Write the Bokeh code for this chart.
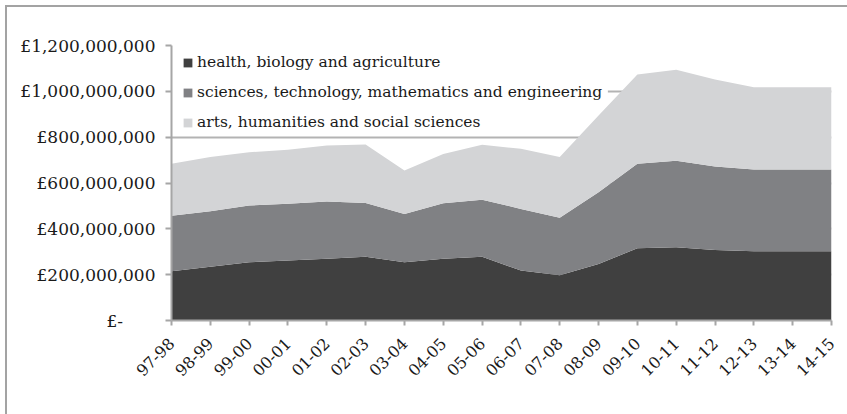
import math

from bokeh.embed import file_html
from bokeh.models import (BoxAnnotation, CustomJSTickFormatter, FixedTicker,
                          Legend, LegendItem, Range1d)
from bokeh.plotting import figure
from bokeh.resources import INLINE

# Academic years and funding by subject group (GBP)
years = ["97-98", "98-99", "99-00", "00-01", "01-02", "02-03", "03-04",
         "04-05", "05-06", "06-07", "07-08", "08-09", "09-10", "10-11",
         "11-12", "12-13", "13-14", "14-15"]

health = [215e6, 235e6, 254e6, 262e6, 269e6, 278e6, 254e6, 269e6, 278e6,
          218e6, 198e6, 247e6, 315e6, 320e6, 308e6, 302e6, 302e6, 302e6]

stem = [242e6, 242e6, 248e6, 247e6, 250e6, 235e6, 211e6, 243e6, 249e6,
        269e6, 250e6, 313e6, 369e6, 377e6, 364e6, 357e6, 357e6, 357e6]

arts = [227e6, 236e6, 232e6, 236e6, 245e6, 255e6, 190e6, 215e6, 240e6,
        262e6, 265e6, 335e6, 389e6, 397e6, 380e6, 359e6, 359e6, 359e6]

series_names = ["health, biology and agriculture",
                "sciences, technology, mathematics and engineering",
                "arts, humanities and social sciences"]
colors = ["#404040", "#808184", "#d3d4d6"]

y_ticks = [0, 200e6, 400e6, 600e6, 800e6, 1000e6, 1200e6]

FONT = "DejaVu Serif"
TEXT_COLOR = "#1a1a1a"

xs = list(range(len(years)))
data = dict(x=xs, health=health, stem=stem, arts=arts)

p = figure(width=840, height=407, output_backend="svg", toolbar_location=None,
           x_range=Range1d(0, len(years) - 1), y_range=Range1d(0, 1200e6),
           min_border_left=164, min_border_right=16, min_border_top=38,
           min_border_bottom=94, margin=(7, 0, 0, 7),
           styles={"outline": "2px solid #a3a3a3"})
p.outline_line_color = None

# white backing for the legend: hides the gridline behind the labels but
# stays underneath the stacked areas
p.add_layout(BoxAnnotation(left=0, right=11.24, bottom=880e6, top=1120e6,
                           fill_color="white", fill_alpha=1, line_alpha=0,
                           level="underlay"))

renderers = p.varea_stack(["health", "stem", "arts"], x="x", source=data,
                          color=colors)

# axes
p.xaxis.ticker = FixedTicker(ticks=xs)
p.xaxis.major_label_overrides = {i: y for i, y in enumerate(years)}
p.xaxis.major_label_orientation = math.pi / 4
p.yaxis.ticker = FixedTicker(ticks=y_ticks)
p.yaxis.formatter = CustomJSTickFormatter(code="""
    if (tick == 0) { return "\\u00a3-\\u2007\\u2007\\u2007"; }
    return "\\u00a3" + Math.round(tick).toString().replace(/\\B(?=(\\d{3})+(?!\\d))/g, ",");
""")
for ax in (p.xaxis[0], p.yaxis[0]):
    ax.axis_line_color = "#a6a6a6"
    ax.axis_line_width = 2
    ax.major_tick_line_color = "#a6a6a6"
    ax.major_tick_line_width = 2
    ax.major_tick_in = 0
    ax.minor_tick_line_color = None
    ax.major_label_text_font = FONT
    ax.major_label_text_color = TEXT_COLOR
p.yaxis.major_label_text_font_size = "17px"
p.xaxis.major_label_text_font_size = "16px"
p.xaxis.major_tick_out = 5
p.yaxis.major_tick_out = 6
p.yaxis.major_label_standoff = 10
p.xaxis.major_label_standoff = 15

p.xgrid.grid_line_color = None
p.ygrid.grid_line_color = "#b3b3b3"
p.ygrid.grid_line_width = 2

legend = Legend(items=[LegendItem(label=n, renderers=[r])
                       for n, r in zip(series_names, renderers)],
                location=(6, 181), margin=0, padding=5, spacing=6,
                label_height=24, glyph_width=11, glyph_height=11,
                label_standoff=4, label_text_font=FONT,
                label_text_font_size="15.5px", label_text_color=TEXT_COLOR,
                border_line_alpha=0, background_fill_alpha=0)
p.add_layout(legend)

open("out.html", "w").write(file_html(p, INLINE))
